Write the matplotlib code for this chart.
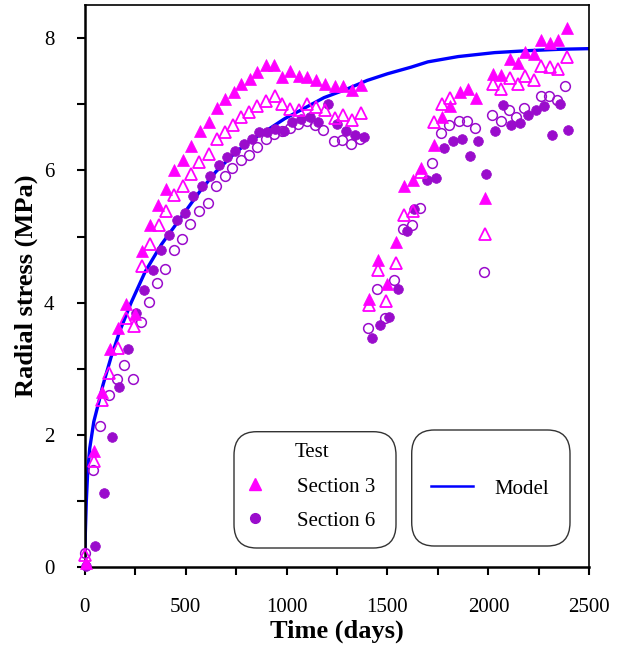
import matplotlib
matplotlib.use("Agg")
import matplotlib.pyplot as plt
from matplotlib.lines import Line2D
from matplotlib.patches import FancyBboxPatch

plt.rcParams['font.family'] = ['Liberation Serif', 'DejaVu Serif']

# Section 3, gauge 1 (filled triangles)
s3a_t = [5, 48, 84, 126, 164, 205, 247, 286, 325, 361, 404, 444, 487, 527, 570, 614,
         656, 697, 739, 775, 818, 855, 896, 937, 979, 1017, 1062, 1103, 1145, 1189,
         1239, 1282, 1324, 1368,
         1410, 1454, 1497, 1542, 1584, 1625, 1667, 1730, 1771, 1812, 1857, 1899, 1937,
         1981, 2023, 2064, 2105, 2147, 2183, 2225, 2263, 2304, 2346, 2387]
s3a_p = [0.06, 1.76, 2.65, 3.30, 3.62, 3.98, 3.83, 4.78, 5.17, 5.47, 5.72, 6.01, 6.16, 6.37,
         6.59, 6.73, 6.95, 7.08, 7.19, 7.31, 7.38, 7.48, 7.59, 7.59, 7.41, 7.50, 7.43, 7.41,
         7.37, 7.31, 7.28, 7.28, 7.21, 7.29,
         4.05, 4.65, 4.28, 4.91, 5.76, 5.86, 6.04, 6.38, 6.80, 6.98, 7.18, 7.23, 7.10,
         5.58, 7.46, 7.44, 7.68, 7.63, 7.79, 7.76, 7.97, 7.92, 7.97, 8.15]

# Section 3, gauge 2 (open triangles)
s3b_t = [2, 48, 84, 122, 167, 204, 245, 283, 325, 366, 403, 444, 485, 527, 568, 614,
         656, 697, 736, 775, 813, 855, 896, 941, 979, 1017, 1062, 1103, 1145, 1189,
         1239, 1282, 1324, 1368,
         1410, 1454, 1493, 1542, 1584, 1625, 1667, 1730, 1771, 1812,
         1981, 2023, 2064, 2105, 2147, 2183, 2225, 2263, 2304, 2346, 2387]
s3b_p = [0.19, 1.61, 2.53, 2.93, 3.31, 3.77, 3.65, 4.56, 4.89, 5.17, 5.39, 5.63, 5.76, 5.95,
         6.12, 6.25, 6.47, 6.58, 6.68, 6.80, 6.88, 6.97, 7.05, 7.13, 7.01, 6.93, 6.91, 7.01,
         6.96, 6.91, 6.79, 6.83, 6.76, 6.86,
         3.96, 4.50, 4.02, 4.60, 5.33, 5.38, 5.98, 6.73, 7.01, 7.10,
         5.04, 7.30, 7.23, 7.39, 7.30, 7.43, 7.37, 7.58, 7.57, 7.53, 7.71]

# Section 6, gauge 1 (filled circles)
s6a_t = [5, 51, 94, 134, 172, 214, 253, 295, 336, 378, 416, 457, 495, 537, 581, 623,
         664, 706, 747, 788, 830, 863, 905, 945, 987, 1029, 1070, 1116, 1158, 1203,
         1252, 1294, 1338, 1382,
         1421, 1464, 1506, 1554, 1595, 1633, 1696, 1741, 1782, 1827, 1869, 1910, 1948,
         1990, 2031, 2072, 2114, 2155, 2197, 2235, 2274, 2314, 2354, 2396]
s6a_p = [0.02, 0.32, 1.12, 1.97, 2.73, 3.30, 3.84, 4.19, 4.50, 4.80, 5.03, 5.25, 5.36, 5.61,
         5.77, 5.92, 6.08, 6.20, 6.29, 6.40, 6.47, 6.58, 6.58, 6.63, 6.59, 6.73, 6.78, 6.81,
         6.73, 7.01, 6.70, 6.59, 6.53, 6.50,
         3.47, 3.67, 3.78, 4.20, 5.08, 5.42, 5.85, 5.88, 6.34, 6.44, 6.47, 6.22, 6.45,
         5.95, 6.59, 6.99, 6.68, 6.72, 6.84, 6.92, 6.97, 6.53, 7.00, 6.61]

# Section 6, gauge 2 (open circles)
s6b_t = [0, 43, 76, 119, 160, 197, 239, 279, 320, 359, 399, 440, 480, 520, 565, 609,
         651, 693, 731, 773, 813, 855, 896, 938, 979, 1017, 1057, 1100, 1141, 1183,
         1236, 1277, 1319, 1365,
         1405, 1448, 1488, 1534, 1575, 1620, 1663, 1721, 1766, 1807, 1852, 1895, 1935,
         1978, 2018, 2061, 2100, 2139, 2177, 2259, 2301, 2342, 2382]
s6b_p = [0.22, 1.47, 2.14, 2.60, 2.85, 3.06, 2.85, 3.71, 4.01, 4.29, 4.51, 4.80, 4.96, 5.19,
         5.38, 5.50, 5.76, 5.91, 6.04, 6.16, 6.23, 6.36, 6.48, 6.55, 6.60, 6.64, 6.70, 6.74,
         6.68, 6.61, 6.45, 6.46, 6.40, 6.47,
         3.62, 4.20, 3.77, 4.35, 5.11, 5.17, 5.43, 6.11, 6.56, 6.69, 6.75, 6.75, 6.64,
         4.47, 6.84, 6.74, 6.91, 6.80, 6.95, 7.13, 7.13, 7.06, 7.28]

# Model prediction
model_t = [0, 3, 8, 15, 25, 45, 70, 90, 130, 175, 230, 300, 380, 480, 570, 650, 740,
           820, 900, 990, 1070, 1186, 1300, 1400, 1500, 1617, 1700, 1850, 2031, 2200,
           2350, 2500]
model_p = [0.0, 0.5, 1.0, 1.45, 1.8, 2.2, 2.5, 2.75, 3.17, 3.58, 4.0, 4.47, 4.88, 5.3,
           5.68, 5.98, 6.25, 6.45, 6.6, 6.78, 6.91, 7.1, 7.23, 7.36, 7.46, 7.56, 7.64,
           7.72, 7.78, 7.81, 7.83, 7.84]

MAGENTA = '#ff00ff'
PURPLE = '#9a0ccc'
BLUE = '#0000ff'

fig = plt.figure(figsize=(6.26, 6.55), dpi=100)
ax = fig.add_axes([0.1353, 0.1339, 0.8061, 0.8585])

ax.plot(model_t, model_p, color=BLUE, lw=2.4, zorder=2)

kw = dict(linestyle='none', clip_on=False)
ax.plot(s6b_t, s6b_p, marker='o', ms=7, mfc='none', mec=PURPLE, mew=1.1, zorder=3, **kw)
ax.plot(s6a_t, s6a_p, marker='o', ms=7, mfc=PURPLE, mec=PURPLE, mew=0.5, zorder=4, **kw)
ax.plot(s3b_t, s3b_p, marker='^', ms=8, mfc='none', mec=MAGENTA, mew=1.3, zorder=5, **kw)
ax.plot(s3a_t, s3a_p, marker='^', ms=8, mfc=MAGENTA, mec=MAGENTA, mew=0.5, zorder=6, **kw)

ax.set_xlim(0, 2500)
ax.set_ylim(0, 8.5)
ax.set_xticks([0, 500, 1000, 1500, 2000, 2500])
ax.set_xticks([250, 750, 1250, 1750, 2250], minor=True)
ax.set_yticks([0, 2, 4, 6, 8])
ax.set_yticks([1, 3, 5, 7], minor=True)
ax.tick_params(which='both', direction='out', length=6, width=1.5,
               labelsize=15, pad=16)
for side in ['left', 'bottom']:
    ax.spines[side].set_linewidth(1.8)
for side in ['top', 'right']:
    ax.spines[side].set_linewidth(1.2)

ax.set_xlabel('Time (days)', fontsize=19, fontweight='bold', labelpad=2)
ax.set_ylabel('Radial stress (MPa)', fontsize=19, fontweight='bold', labelpad=4)

# rounded legend frames
for x0, y0, w, h in [(234, 431.7, 162, 116.3), (411.7, 430, 158.3, 116)]:
    box = FancyBboxPatch((x0 / 626, 1 - (y0 + h) / 655), w / 626, h / 655,
                         boxstyle='round,pad=0,rounding_size=0.036',
                         transform=fig.transFigure, fill=False,
                         ec='#333333', lw=1.0, zorder=10)
    fig.patches.append(box)

h_s3 = Line2D([], [], linestyle='none', marker='^', ms=8, color=MAGENTA)
h_s6 = Line2D([], [], linestyle='none', marker='o', ms=7, color=PURPLE)
leg1 = fig.legend([h_s3, h_s6], ['Section 3', 'Section 6'], title='Test',
                  loc='center', bbox_to_anchor=(312 / 626, 1 - 487 / 655),
                  frameon=False, fontsize=15, title_fontsize=15,
                  handlelength=0.6, handletextpad=1.7, labelspacing=0.7,
                  borderpad=0)

h_m = Line2D([], [], color=BLUE, lw=1.8)
leg2 = fig.legend([h_m], ['Model'], loc='center',
                  bbox_to_anchor=(490 / 626, 1 - 489 / 655),
                  frameon=False, fontsize=15, handlelength=2.0,
                  handletextpad=1.0, borderpad=0)

fig.savefig('out.png', dpi=100)
